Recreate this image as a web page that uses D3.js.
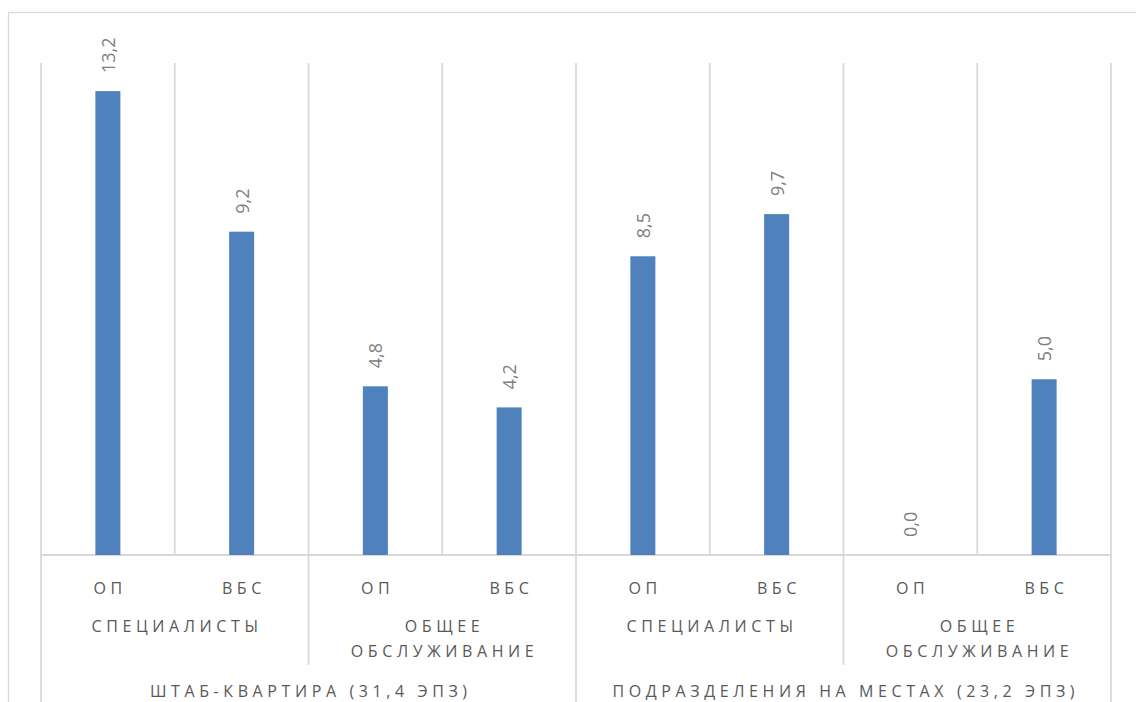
<!DOCTYPE html>
<html><head><meta charset="utf-8">
<script src="https://cdn.jsdelivr.net/npm/d3@7/dist/d3.min.js"></script>
<style>body{margin:0;background:#fff}svg{display:block}</style>
</head><body>
<script>
const groups = ["ШТАБ-КВАРТИРА (31,4 ЭПЗ)", "ПОДРАЗДЕЛЕНИЯ НА МЕСТАХ (23,2 ЭПЗ)"];
const subgroups = [["СПЕЦИАЛИСТЫ"], ["ОБЩЕЕ", "ОБСЛУЖИВАНИЕ"]];
const types = ["ОП", "ВБС"];
const values = [13.2, 9.2, 4.8, 4.2, 8.5, 9.7, 0.0, 5.0];

const W = 1136, H = 702;
const svg = d3.select("body").append("svg").attr("width", W).attr("height", H);
svg.append("rect").attr("width", W).attr("height", H).attr("fill", "#fff");

const FONT = "'Open Sans', sans-serif";
const grid = "#d9d9d9";

// outer chart border (clipped by the page)
svg.append("rect").attr("x", 8.5).attr("y", 12.5).attr("width", 1200).attr("height", 800)
  .attr("fill", "none").attr("stroke", grid).attr("stroke-width", 1.3);

const keys = d3.range(values.length);
const x = d3.scaleBand().domain(keys).range([41, 1111]).padding(0);
const y = d3.scaleLinear().domain([0, 14]).range([555, 63]);
const bw = x.bandwidth();

// vertical gridlines at category boundaries
const bounds = d3.range(values.length + 1).map(i => 41 + i * bw);
svg.append("g").selectAll("line").data(bounds).join("line")
  .attr("x1", d => d).attr("x2", d => d)
  .attr("y1", y(14)).attr("y2", y(0))
  .attr("stroke", grid).attr("stroke-width", 1.8);

// axis line
svg.append("line").attr("x1", 41).attr("x2", 1111).attr("y1", y(0)).attr("y2", y(0))
  .attr("stroke", grid).attr("stroke-width", 1.8);

// multi-level dividers below axis
const nSub = subgroups.length * types.length;
bounds.forEach((b, i) => {
  if (i % nSub === 0) {
    svg.append("line").attr("x1", b).attr("x2", b).attr("y1", y(0)).attr("y2", H)
      .attr("stroke", grid).attr("stroke-width", 1.8);
  } else if (i % types.length === 0) {
    svg.append("line").attr("x1", b).attr("x2", b).attr("y1", y(0)).attr("y2", 665)
      .attr("stroke", grid).attr("stroke-width", 1.8);
  }
});

// bars
const barW = 25;
svg.append("g").selectAll("rect").data(values).join("rect")
  .attr("x", (d, i) => x(i) + bw / 2 - barW / 2)
  .attr("y", d => y(d))
  .attr("width", barW)
  .attr("height", d => y(0) - y(d))
  .attr("fill", "#4f81bd");

// data labels
const fmt = v => d3.format(".1f")(v).replace(".", ",");
svg.append("g").selectAll("text").data(values).join("text")
  .attr("transform", (d, i) => `translate(${x(i) + bw / 2 + 7},${y(d) - 18}) rotate(-90)`)
  .attr("text-anchor", "start")
  .attr("font-family", FONT).attr("font-size", 18).attr("fill", "#808080")
  .text(d => fmt(d));

const LS = 4.6;
function spaced(sel, xc, yb, txt, fs) {
  sel.append("text").attr("x", xc + LS / 2).attr("y", yb)
    .attr("text-anchor", "middle").attr("font-family", FONT)
    .attr("font-size", fs).attr("letter-spacing", LS).attr("fill", "#595959")
    .text(txt);
}
const lab = svg.append("g");
const FS = 16;
// level 1: types
keys.forEach(i => spaced(lab, x(i) + bw / 2, 594, types[i % types.length], FS));
// level 2: subgroups
for (let g = 0; g < groups.length; g++) {
  for (let s = 0; s < subgroups.length; s++) {
    const i0 = g * nSub + s * types.length;
    const xc = x(i0) + bw * types.length / 2;
    subgroups[s].forEach((line, k) => spaced(lab, xc, 632 + k * 25, line, FS));
  }
  const xc = x(g * nSub) + bw * nSub / 2;
  spaced(lab, xc, 697, groups[g], FS);
}
</script>
</body></html>
